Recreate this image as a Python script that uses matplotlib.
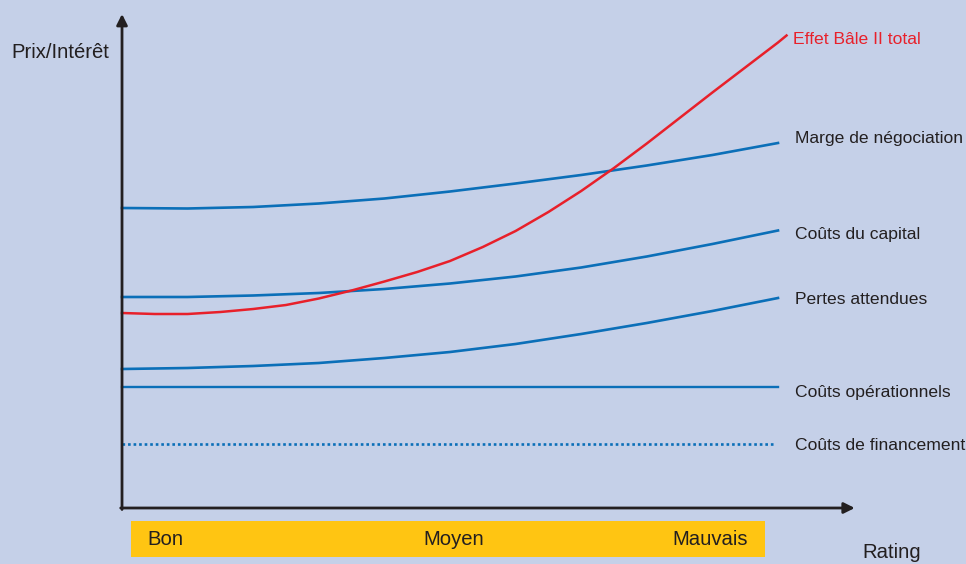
import matplotlib.pyplot as plt
from matplotlib import font_manager
from matplotlib.patches import Rectangle

# --- donnees ---
rating_x = [0, 1, 2, 3, 4, 5, 6, 7, 8, 9, 10]
categories = ["Bon", "Moyen", "Mauvais"]
categorie_pos = [0.66, 5.05, 8.96]

marge_negociation = [60, 59.9, 60.2, 60.9, 61.9, 63.3, 64.9, 66.6, 68.5, 70.6, 73]
couts_capital = [42.2, 42.2, 42.5, 43, 43.8, 44.9, 46.3, 48.1, 50.3, 52.8, 55.5]
pertes_attendues = [27.8, 28, 28.4, 29, 30, 31.2, 32.8, 34.8, 37, 39.4, 42]
couts_operationnels = [24.2] * 11
couts_financement = [12.8] * 11

bale_x = [0, 0.5, 1, 1.5, 2, 2.5, 3, 3.5, 4, 4.5, 5, 5.5, 6, 6.5, 7, 7.5,
          8, 8.5, 9, 9.5, 10, 10.13]
bale_total = [39.0, 38.8, 38.8, 39.2, 39.8, 40.6, 41.9, 43.5, 45.3, 47.2,
              49.4, 52.2, 55.4, 59.2, 63.4, 68.0, 72.9, 78.0, 83.1, 88.1,
              93.1, 94.5]

fond = "#c5d0e8"
bleu = "#0b6fb8"
rouge = "#e8202a"
noir = "#231f20"
jaune = "#ffc512"

noms = {f.name for f in font_manager.fontManager.ttflist}
if "Liberation Sans Narrow" in noms:
    plt.rcParams["font.family"] = ["Liberation Sans Narrow", "DejaVu Sans"]
    t_lab, t_ax = 15.3, 17.8
else:
    plt.rcParams["font.family"] = ["Liberation Sans", "DejaVu Sans"]
    t_lab, t_ax = 12.6, 14.6

fig = plt.figure(figsize=(9.66, 5.64), dpi=100, facecolor=fond)
ax = fig.add_axes([0, 0, 1, 1])
ax.set_facecolor(fond)
ax.set_xlim(-1.86, 12.866)
ax.set_ylim(-11.2, 101.6)
ax.axis("off")

# courbes
kw = dict(color=bleu, lw=1.9, solid_joinstyle="round")
ax.plot(rating_x, marge_negociation, **kw)
ax.plot(rating_x, couts_capital, **kw)
ax.plot(rating_x, pertes_attendues, **kw)
ax.plot(rating_x, couts_operationnels, color=bleu, lw=1.7)
ax.plot(rating_x[:-1] + [9.95], couts_financement, color=bleu, lw=1.9,
        linestyle=(0, (1, 1.1)))
ax.plot(bale_x, bale_total, color=rouge, lw=1.8, solid_joinstyle="round")

# etiquettes des courbes
etiquettes = [
    ("Marge de négociation", marge_negociation[-1] + 0.8),
    ("Coûts du capital", couts_capital[-1] - 0.7),
    ("Pertes attendues", pertes_attendues[-1] - 0.4),
    ("Coûts opérationnels", couts_operationnels[-1] - 1.2),
    ("Coûts de financement", couts_financement[-1] - 0.2),
]
for txt, y in etiquettes:
    ax.text(10.26, y, txt, color=noir, fontsize=t_lab, va="center", ha="left")
ax.text(10.23, bale_total[-1] - 0.9, "Effet Bâle II total", color=rouge,
        fontsize=t_lab, va="center", ha="left")

# axes avec fleches
ax.annotate("", xy=(0, 98.8), xytext=(0, -0.3),
            arrowprops=dict(arrowstyle="-|>", color=noir, lw=2,
                            mutation_scale=16, shrinkA=0, shrinkB=0))
ax.annotate("", xy=(11.17, 0), xytext=(-0.02, 0),
            arrowprops=dict(arrowstyle="-|>", color=noir, lw=2,
                            mutation_scale=16, shrinkA=0, shrinkB=0))

# bande de rating
ax.add_patch(Rectangle((0.137, -9.8), 9.663, 7.2, color=jaune, lw=0))
for pos, cat in zip(categorie_pos, categories):
    ax.text(pos, -6.3, cat, fontsize=t_ax, color=noir, ha="center", va="center")

ax.text(11.73, -8.8, "Rating", fontsize=t_ax, color=noir, ha="center", va="center")
ax.text(-0.94, 91.2, "Prix/Intérêt", fontsize=t_ax, color=noir, ha="center", va="center")

fig.savefig("out.png", dpi=100, facecolor=fond)
